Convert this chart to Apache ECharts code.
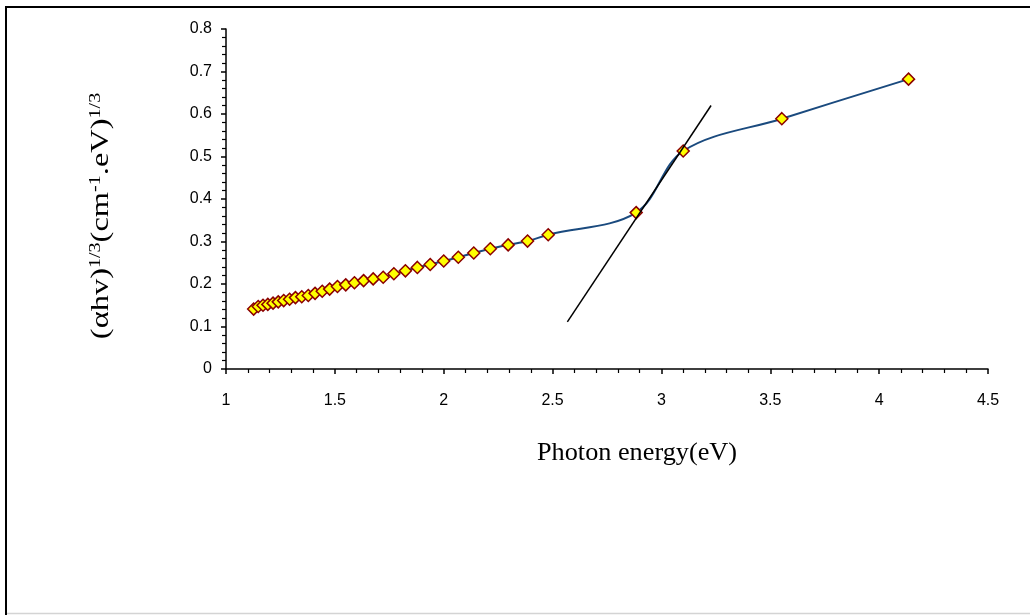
<!DOCTYPE html>
<html>
<head>
<meta charset="utf-8">
<script src="https://cdn.jsdelivr.net/npm/echarts@6/dist/echarts.min.js"></script>
<style>
html,body{margin:0;padding:0;background:#fff;}
#chart{width:1030px;height:615px;}
</style>
</head>
<body>
<div id="chart"></div>
<script>
// Photon energy (eV)
const energy = [1.127,1.148,1.170,1.192,1.216,1.240,1.265,1.292,1.319,1.348,1.378,1.409,1.442,1.476,1.512,1.550,1.590,1.632,1.676,1.722,1.771,1.824,1.879,1.938,2.000,2.067,2.138,2.214,2.296,2.385,2.480,2.884,3.100,3.553,4.135];
// (alpha h nu)^(1/3)
const absorb = [0.141,0.147,0.150,0.152,0.155,0.158,0.161,0.164,0.168,0.170,0.173,0.178,0.183,0.188,0.194,0.198,0.203,0.208,0.212,0.216,0.224,0.231,0.239,0.246,0.254,0.263,0.273,0.283,0.292,0.301,0.316,0.368,0.513,0.589,0.682];
// Tangent (extrapolation) line end points
const tangentX = [2.568, 3.228];
const tangentY = [0.111, 0.620];
const xTitle = 'Photon energy(eV)';

const dataPts = energy.map((e,i)=>[e, absorb[i]]);
const tanPts = tangentX.map((e,i)=>[e, tangentY[i]]);

const chart = echarts.init(document.getElementById('chart'), null, {renderer:'canvas'});
chart.setOption({
  animation:false,
  backgroundColor:'#ffffff',
  grid:{left:226, right:42, top:29, bottom:246, containLabel:false},
  xAxis:{
    type:'value', min:1, max:4.5, interval:0.5,
    axisLine:{show:true, onZero:false, lineStyle:{color:'#000', width:1.5}},
    axisTick:{show:true, inside:false, length:5, lineStyle:{color:'#000', width:1.5}},
    minorTick:{show:true, splitNumber:5, length:4, lineStyle:{color:'#000', width:1.2}},
    splitLine:{show:false},
    axisLabel:{color:'#000', fontFamily:'Liberation Sans, Arial', fontSize:16, margin:24}
  },
  yAxis:{
    type:'value', min:0, max:0.8, interval:0.1,
    axisLine:{show:true, onZero:false, lineStyle:{color:'#000', width:1.5}},
    axisTick:{show:true, inside:false, length:5, lineStyle:{color:'#000', width:1.5}},
    minorTick:{show:true, splitNumber:5, length:4, lineStyle:{color:'#000', width:1.2}},
    splitLine:{show:false},
    axisLabel:{color:'#000', fontFamily:'Liberation Sans, Arial', fontSize:16, margin:14}
  },
  graphic:[
    {type:'line', shape:{x1:6,y1:6,x2:6,y2:615}, style:{stroke:'#000', lineWidth:2}},
    {type:'line', shape:{x1:5,y1:7,x2:1030,y2:7}, style:{stroke:'#000', lineWidth:2}},
    {type:'line', shape:{x1:7,y1:613.5,x2:1030,y2:613.5}, style:{stroke:'#d4d4d4', lineWidth:1.5}},
    {type:'text', x:637, y:453, scaleX:1.05,
      style:{text:xTitle, fill:'#000', font:'25px "Liberation Serif"', align:'center', verticalAlign:'middle'}},
    {type:'text', x:101, y:216, rotation:Math.PI/2, scaleX:1.25,
      style:{
        text:'(αhv){s|1/3}(cm{s|-1}.eV){s|1/3}',
        fill:'#000', font:'26px "Liberation Serif"', align:'center', verticalAlign:'middle',
        rich:{
          s:{fontSize:16, fontFamily:'Liberation Serif', verticalAlign:'top', lineHeight:16, fill:'#000'}
        }
      }}
  ],
  series:[
    {
      type:'line', data:dataPts, smooth:0.35,
      lineStyle:{color:'#1a4a7e', width:2},
      symbol:'diamond', symbolSize:12,
      itemStyle:{color:'#ffff00', borderColor:'#8b0000', borderWidth:1.5},
      z:2
    },
    {
      type:'line', data:tanPts, symbol:'none',
      lineStyle:{color:'#000', width:1.5}, z:3
    }
  ]
});
</script>
</body>
</html>
